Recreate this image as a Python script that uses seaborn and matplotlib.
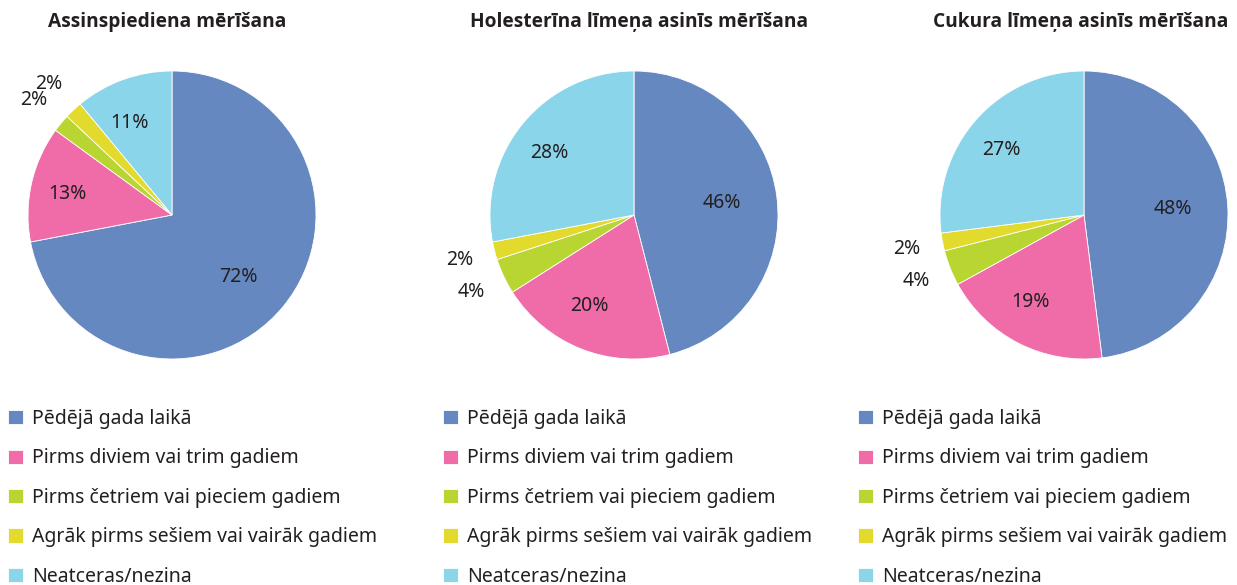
import numpy as np
import matplotlib
matplotlib.use("Agg")
import matplotlib.pyplot as plt
import matplotlib.transforms as mtransforms
import seaborn as sns

# --- data ---
categories = ['Pēdējā gada laikā', 'Pirms diviem vai trim gadiem',
              'Pirms četriem vai pieciem gadiem',
              'Agrāk pirms sešiem vai vairāk gadiem', 'Neatceras/nezina']
titles = ['Assinspiediena mērīšana', 'Holesterīna līmeņa asinīs mērīšana',
          'Cukura līmeņa asinīs mērīšana']
blood_pressure = [72, 13, 2, 2, 11]
cholesterol = [46, 20, 4, 2, 28]
sugar = [48, 19, 4, 2, 27]
colors = ['#6688C0', '#F06CA8', '#B9D531', '#E3DA2E', '#8BD5EA']

sns.set_theme(style="white")
plt.rcParams['font.family'] = ['Noto Sans', 'DejaVu Sans']

W, H = 1237, 585
fig = plt.figure(figsize=(W / 100, H / 100), dpi=100)
palette = sns.color_palette(colors)
TXT = '#231F20'

# pixel layout: pie centre x, title centre x, legend left x
pie_cx = [172, 634, 1084]
title_cx = [167, 639, 1081]
legend_x = [8, 443, 858]
pie_cy, R = 215, 144

for i, vals in enumerate([blood_pressure, cholesterol, sugar]):
    ax = fig.add_axes([(pie_cx[i] - R) / W, (H - pie_cy - R) / H, 2 * R / W, 2 * R / H])
    wedges, _ = ax.pie(vals, colors=palette, startangle=90, counterclock=False,
                       wedgeprops=dict(edgecolor='white', linewidth=0.6))
    ax.set_xlim(-1, 1)
    ax.set_ylim(-1, 1)
    ax.set_aspect('equal')
    ax.axis('off')

    # percentage labels (inside ones nudged a bit left like the original)
    nudge = mtransforms.offset_copy(ax.transData, fig=fig, x=-9, y=0, units='dots')
    for w, v in zip(wedges, vals):
        ang = np.deg2rad((w.theta1 + w.theta2) / 2)
        if v < 5:
            r, tr = 1.25, ax.transData
        else:
            r, tr = 0.68, nudge
        ax.text(r * np.cos(ang), r * np.sin(ang), f'{v}%', ha='center', va='center',
                fontsize=14, color=TXT, clip_on=False, transform=tr)

    fig.text(title_cx[i] / W, 1 - 22 / H, titles[i], ha='center', va='center',
             fontsize=13.8, fontweight='bold', color=TXT,
             family=['Open Sans', 'DejaVu Sans'])

    fig.legend(wedges, categories, loc='upper left',
               bbox_to_anchor=(legend_x[i] / W, 1 - 409 / H),
               frameon=False, fontsize=14, handlelength=0.75, handleheight=0.75,
               handletextpad=0.5, labelspacing=1.0, borderpad=0, borderaxespad=0,
               labelcolor=TXT)

plt.savefig('out.png', dpi=100)
